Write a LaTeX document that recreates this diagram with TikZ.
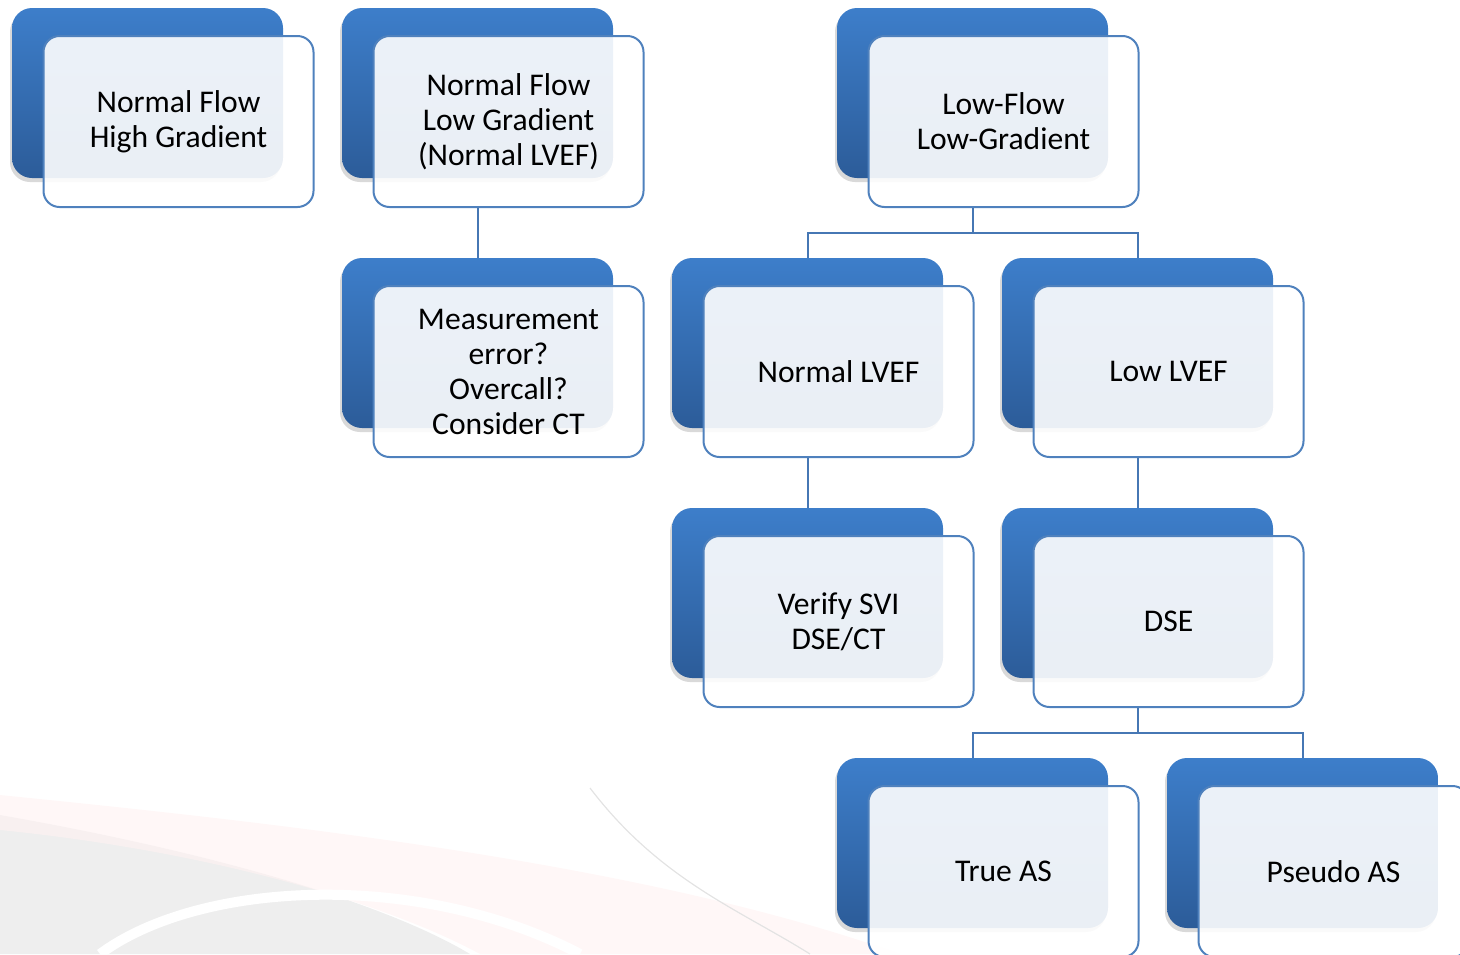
\documentclass[tikz,border=0pt]{standalone}
\usepackage{fontspec}
\setmainfont{Carlito}
\usepackage{tikz}
\usetikzlibrary{calc,shadows}
\definecolor{boxtop}{HTML}{3D7ECA}
\definecolor{boxbot}{HTML}{2C5C99}
\definecolor{edge}{HTML}{4F81BD}
\definecolor{wire}{HTML}{4677B4}

\begin{document}
\begin{tikzpicture}[x=0.5pt,y=-0.5pt,
	back/.style={rounded corners=10pt,top color=boxtop,bottom color=boxbot,minimum width=135.5pt,minimum height=85pt,inner sep=0pt,
		drop shadow={shadow xshift=-1pt,shadow yshift=-2pt,opacity=0.3}},
	front/.style={rounded corners=8pt,draw=edge,line width=1pt,fill=white,fill opacity=0.9,text opacity=1,minimum width=135pt,minimum height=85.5pt,
		align=center,font=\fontsize{15.8pt}{17.5pt}\selectfont},
	wire/.style={draw=wire,line width=1pt}]
	\useasboundingbox (0,0) rectangle (1460,954);
	\clip (0,0) rectangle (1460,954);
	% faint backdrop at the lower left
	\fill[gray!13] (0,815) .. controls (200,850) and (380,900) .. (470,954) -- (0,954) -- cycle;
	\fill[red!5,opacity=0.6] (0,795) .. controls (300,825) and (650,865) .. (900,954) -- (480,954) .. controls (380,900) and (200,850) .. (0,830) -- cycle;
	\draw[white,line width=5pt] (100,954) .. controls (200,880) and (420,870) .. (580,954);
	\draw[gray!22,line width=0.6pt] (590,788) .. controls (660,880) and (740,910) .. (810,954);

	\node[back] (b1) at (147.5,93) {};
	\node[back] (b2) at (477.5,93) {};
	\node[back] (b3) at (477.5,343) {};
	\node[back] (b4) at (972.5,93) {};
	\node[back] (b5) at (807.5,343) {};
	\node[back] (b6) at (1137.5,343) {};
	\node[back] (b7) at (807.5,593) {};
	\node[back] (b8) at (1137.5,593) {};
	\node[back] (b9) at (972.5,843) {};
	\node[back] (b10) at (1302.5,843) {};

	\node[front] (f1) at (178.5,121.5) {Normal Flow\\High Gradient};
	\node[front] (f2) at (508.5,121.5) {Normal Flow\\Low Gradient\\(Normal LVEF)};
	\node[front] (f3) at (508.5,371.5) {Measurement\\error?\\Overcall?\\Consider CT};
	\node[front] (f4) at (1003.5,121.5) {Low-Flow\\Low-Gradient};
	\node[front] (f5) at (838.5,371.5) {Normal LVEF};
	\node[front] (f6) at (1168.5,371.5) {Low LVEF};
	\node[front] (f7) at (838.5,621.5) {Verify SVI\\DSE/CT};
	\node[front] (f8) at (1168.5,621.5) {DSE};
	\node[front] (f9) at (1003.5,871.5) {True AS};
	\node[front] (f10) at (1333.5,871.5) {Pseudo AS};

	\draw[wire] (f2.south -| b2) -- (b3.north);
	\draw[wire] (f4.south -| b4) -- ++(0,25) -| (b5.north);
	\draw[wire] (f4.south -| b4) -- ++(0,25) -| (b6.north);
	\draw[wire] (f5.south -| b5) -- (b7.north);
	\draw[wire] (f6.south -| b6) -- (b8.north);
	\draw[wire] (f8.south -| b8) -- ++(0,25) -| (b9.north);
	\draw[wire] (f8.south -| b8) -- ++(0,25) -| (b10.north);
\end{tikzpicture}
\end{document}
